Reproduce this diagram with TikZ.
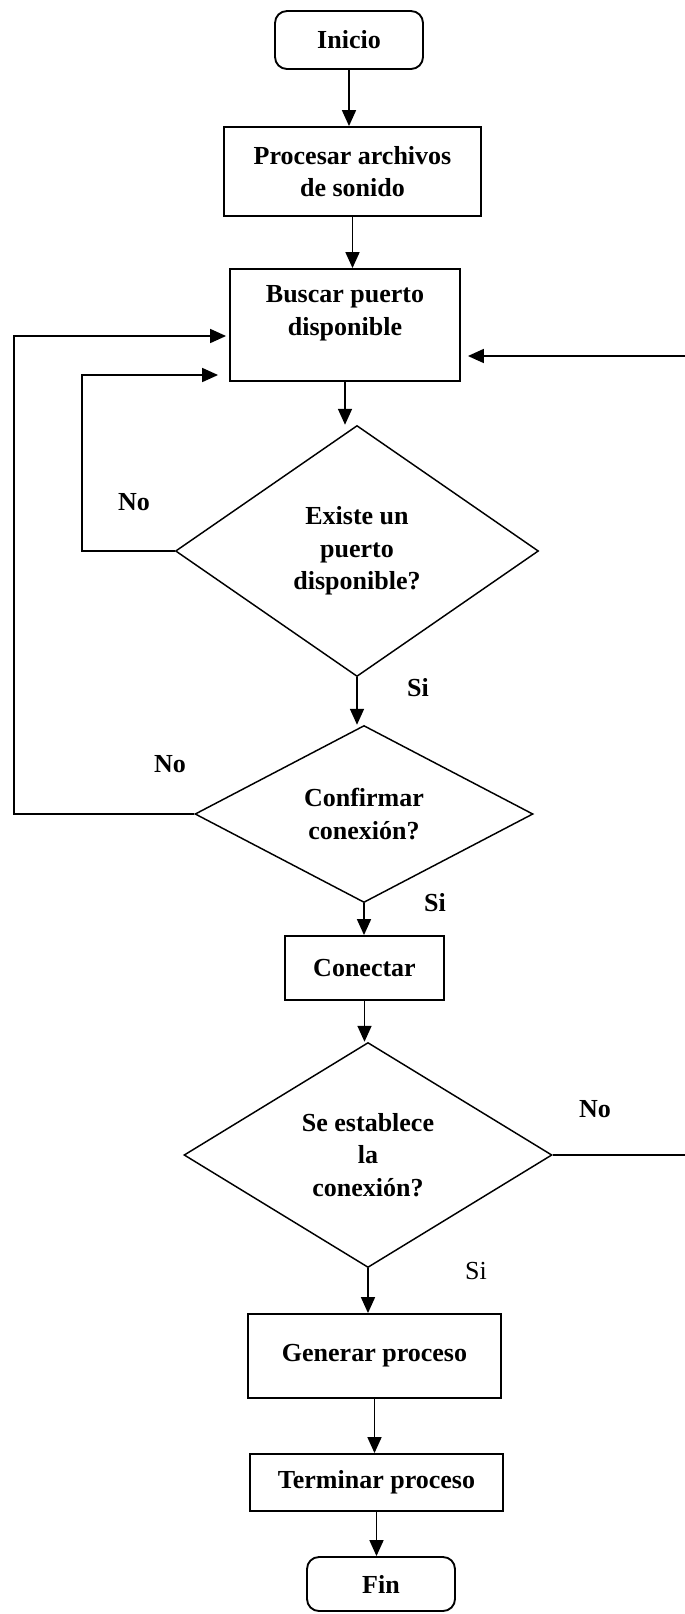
\documentclass[tikz,border=0pt]{standalone}
\usepackage{fontspec}
\setmainfont{Liberation Serif}
\usetikzlibrary{shapes.geometric,arrows.meta}
\begin{document}
\begin{tikzpicture}[x=0.75pt,y=-0.75pt,
  every node/.style={font=\fontsize{19.5}{24.5}\selectfont\bfseries, align=center},
  box/.style={draw, line width=1.4pt, inner sep=0pt},
  term/.style={box, rounded corners=9pt},
  dec/.style={draw, diamond, line width=1.1pt, inner sep=0pt},
  arr/.style={line width=1.3pt, -{Triangle[length=12pt,width=10.5pt]}},
  lab/.style={inner sep=0pt}]
\useasboundingbox (0,0) rectangle (685,1614);

% nodes
\node[term, minimum width=111pt, minimum height=43.5pt] (inicio) at (349,40) {Inicio};
\node[box, minimum width=192.75pt, minimum height=66.75pt] (procesar) at (352.5,171.5) {Procesar archivos\\de sonido};
\node[box, minimum width=172.5pt, minimum height=84pt] (buscar) at (345,325) {};
\node (buscartxt) at (345,313.5) {Buscar puerto\\disponible};
\node[dec, minimum width=272.25pt, minimum height=188.25pt] (d1) at (357,551) {Existe un\\puerto\\disponible?};
\node[dec, minimum width=253.5pt, minimum height=132.75pt] (d2) at (364,814) {Confirmar\\conexión?};
\node[box, minimum width=119.25pt, minimum height=48pt] (conectar) at (364.5,968) {Conectar};
\node[dec, minimum width=276pt, minimum height=168.75pt] (d3) at (368,1155) {Se establece\\la\\conexión?};
\node[box, minimum width=189.75pt, minimum height=63pt] (generar) at (374.5,1356) {Generar proceso};
\node[box, minimum width=189.75pt, minimum height=42.75pt] (terminar) at (376.5,1482.5) {Terminar proceso};
\node[term, minimum width=111pt, minimum height=40.5pt] (fin) at (381,1584) {Fin};

% labels
\node[lab] (no1) at (134,502) {No};
\node[lab] (si1) at (418,688) {Si};
\node[lab] (no2) at (170,764) {No};
\node[lab] (si2) at (435,903) {Si};
\node[lab] (no3) at (595,1109) {No};
\node[lab, font=\fontsize{19.5}{24.5}\selectfont\mdseries] (si3) at (476,1271) {Si};

% helper coordinates for loop verticals
\coordinate (lo) at (14,0);
\coordinate (li) at (82,0);
\coordinate (ri) at (692,0);

% main flow
\draw[arr] (inicio.south) -- (inicio.south |- procesar.north);
\draw[arr] (procesar.south) -- (procesar.south |- buscar.north);
\draw[arr] (buscar.south) -- (buscar.south |- d1.north);
\draw[arr] (d1.south) -- (d1.south |- d2.north);
\draw[arr] (d2.south) -- (d2.south |- conectar.north);
\draw[arr] (conectar.south) -- (conectar.south |- d3.north);
\draw[arr] (d3.south) -- (d3.south |- generar.north);
\draw[arr] (generar.south) -- (generar.south |- terminar.north);
\draw[arr] (terminar.south) -- (terminar.south |- fin.north);

% loops
\draw[arr] (d1.west) -- (d1.west -| li) |- ([shift={(-11,50)}]buscar.west);
\draw[arr] (d2.west) -- (d2.west -| lo) |- ([shift={(-3,11)}]buscar.west);
\draw[arr] (d3.east) -- (d3.east -| ri) |- ([shift={(7,31)}]buscar.east);
\end{tikzpicture}
\end{document}
